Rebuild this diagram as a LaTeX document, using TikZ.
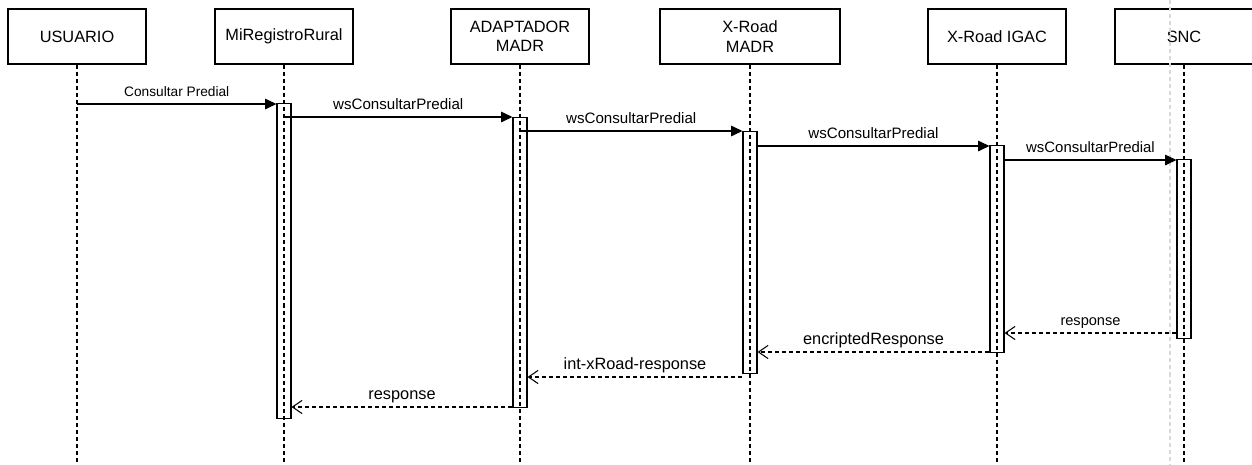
\documentclass[tikz,border=0pt]{standalone}
\usepackage{fontspec}
\setmainfont{Liberation Sans}
\usetikzlibrary{arrows.meta}

\begin{document}
\begin{tikzpicture}[x=0.02cm, y=-0.02cm,
		actor/.style={draw, line width=0.6pt, fill=white, minimum width=2.76cm, minimum height=1.1cm, inner sep=0pt, align=center, font=\fontsize{9.3}{11}\selectfont},
		life/.style={line width=0.6pt, dash pattern=on 2.3pt off 1.7pt},
		bar/.style={draw, line width=0.6pt, minimum width=0.28cm, inner sep=0pt, anchor=north},
		call/.style={line width=0.7pt, -{Triangle[length=6.5pt,width=6pt]}},
		reply/.style={line width=0.6pt, dash pattern=on 2.3pt off 1.7pt, -{Straight Barb[length=5.5pt,width=7.5pt]}},
		lbl/.style={anchor=base, yshift=4pt, inner sep=0pt, font=\fontsize{8.6}{10}\selectfont},
		rlbl/.style={lbl, font=\fontsize{9.3}{11}\selectfont}]
		\useasboundingbox (0,0) rectangle (1252,464);
		
		% PARTICIPANTS
		\node[actor] (usuario) at (77,36.5) {USUARIO};
		\node[actor] (mrr) at (284,36.5) {MiRegistroRural};
		\node[actor] (adapt) at (520,36.5) {ADAPTADOR\\MADR};
		\node[actor, minimum width=3.6cm] (xmadr) at (750,36.5) {X-Road\\MADR};
		\node[actor] (xigac) at (997,36.5) {X-Road IGAC};
		\node[actor] (snc) at (1184,36.5) {SNC};
		
		% GUIDE
		\draw[gray!30, line width=0.6pt, dash pattern=on 2.3pt off 1.7pt] (1170,0) -- (1170,464);
		
		% LIFELINES
		\foreach \p in {usuario,mrr,adapt,xmadr,xigac,snc}
			\draw[life] (\p.south) -- (\p.south |- 0,464);
		
		% ACTIVATION BARS
		\node[bar, minimum height=6.3cm] (bmrr) at (284,103) {};
		\node[bar, minimum height=5.8cm] (badapt) at (520,117) {};
		\node[bar, minimum height=4.84cm] (bxmadr) at (750,131) {};
		\node[bar, minimum height=4.14cm] (bxigac) at (997,145) {};
		\node[bar, minimum height=3.58cm] (bsnc) at (1184,159) {};
		
		% REQUESTS
		\draw[call] (usuario.south |- 0,104) -- node[lbl, font=\fontsize{7.8}{9}\selectfont] {Consultar Predial} (bmrr.west |- 0,104);
		\draw[call] (mrr.south |- 0,117) -- node[lbl] {wsConsultarPredial} (badapt.west |- 0,117);
		\draw[call] (adapt.south |- 0,131) -- node[lbl] {wsConsultarPredial} (bxmadr.west |- 0,131);
		\draw[call] (bxmadr.east |- 0,146) -- node[lbl] {wsConsultarPredial} (bxigac.west |- 0,146);
		\draw[call] (bxigac.east |- 0,160) -- node[lbl, font=\fontsize{8.5}{10}\selectfont] {wsConsultarPredial} (bsnc.west |- 0,160);
		
		% RESPONSES
		\draw[reply] (bsnc.west |- 0,333) -- node[rlbl, font=\fontsize{8.3}{10}\selectfont] {response} (bxigac.east |- 0,333);
		\draw[reply] (bxigac.west |- 0,352) -- node[rlbl] {encriptedResponse} (bxmadr.east |- 0,352);
		\draw[reply] (bxmadr.west |- 0,377) -- node[rlbl] {int-xRoad-response} (badapt.east |- 0,377);
		\draw[reply] (badapt.west |- 0,407) -- node[rlbl] {response} (bmrr.east |- 0,407);
	\end{tikzpicture}
\end{document}
